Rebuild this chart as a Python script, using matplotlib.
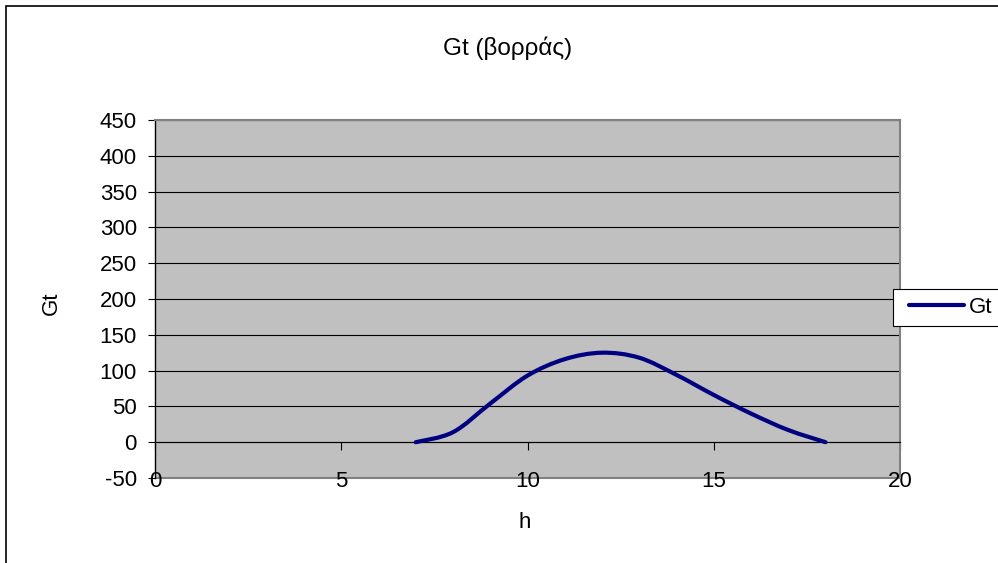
import matplotlib
matplotlib.use("Agg")
import matplotlib.pyplot as plt
from matplotlib.path import Path
from matplotlib.patches import PathPatch, Rectangle
from matplotlib.lines import Line2D
from matplotlib.legend_handler import HandlerLine2D
import numpy as np

plt.rcParams['font.family'] = ['Liberation Sans', 'DejaVu Sans']
plt.rcParams['axes.unicode_minus'] = False

# hourly values
hours = [7, 8, 9, 10, 11, 12, 13, 14, 15, 16, 17, 18]
gt = [0, 14, 54, 93, 116, 125, 118, 94, 66, 40, 17, 0]

title = "Gt (βορράς)"
series_name = "Gt"
x_label = "h"
y_label = "Gt"
x_ticks = [0, 5, 10, 15, 20]
y_ticks = [-50, 0, 50, 100, 150, 200, 250, 300, 350, 400, 450]

line_color = "#000080"
fs = 16

W, H = 998, 563
fig = plt.figure(figsize=(W / 100, H / 100), dpi=100)
fig.patch.set_facecolor("white")

# outer chart border (cut off at right/bottom like the original)
fig.add_artist(Rectangle((5.5 / W, -0.05), 1.2, 1 - 5.5 / H + 0.05,
                         transform=fig.transFigure, fill=False,
                         edgecolor="black", linewidth=1.2))

ax = fig.add_axes([155 / W, 1 - 478 / H, 745 / W, 358 / H])
ax.set_facecolor("#C0C0C0")
ax.set_xlim(0, 20)
ax.set_ylim(-50, 450)
ax.set_yticks(y_ticks)
ax.set_xticks(x_ticks)

for y in y_ticks[1:]:
    ax.axhline(y, color="black", linewidth=0.8, zorder=1)

for side in ["top", "right"]:
    ax.spines[side].set_color("#808080")
    ax.spines[side].set_linewidth(1.5)
ax.spines["left"].set_color("black")
ax.spines["left"].set_linewidth(1.0)
# x axis crosses at 0, labels stay low
ax.spines["bottom"].set_position(("data", 0))
ax.spines["bottom"].set_color("black")
ax.spines["bottom"].set_linewidth(0.8)
ax.add_patch(Rectangle((0, 0), 1, 0, transform=ax.transAxes, fill=False,
                       edgecolor="#808080", linewidth=1.5, clip_on=False))

ax.tick_params(axis="y", direction="out", length=5, width=0.8, pad=8,
               labelsize=fs, color="black")
ax.tick_params(axis="x", direction="out", length=6, width=0.8, pad=15,
               labelsize=fs, color="black")

# smoothed line (Excel-like Catmull-Rom bezier through the points)
pts = np.column_stack([hours, gt]).astype(float)
ext = np.vstack([pts[0], pts, pts[-1]])
verts = [tuple(pts[0])]
codes = [Path.MOVETO]
for i in range(1, len(ext) - 2):
    p0, p1, p2, p3 = ext[i - 1], ext[i], ext[i + 1], ext[i + 2]
    c1 = p1 + (p2 - p0) / 6
    c2 = p2 - (p3 - p1) / 6
    verts += [tuple(c1), tuple(c2), tuple(p2)]
    codes += [Path.CURVE4] * 3
ax.add_patch(PathPatch(Path(verts, codes), fill=False, edgecolor=line_color,
                       linewidth=3, capstyle="round", zorder=3))

fig.text(508 / W, 1 - 48 / H, title, ha="center", va="center", fontsize=17.5)
fig.text(525 / W, 1 - 522 / H, x_label, ha="center", va="center", fontsize=fs)
fig.text(51 / W, 1 - 303 / H, y_label, ha="center", va="center",
         fontsize=fs, rotation=90)

handle = Line2D([], [], color=line_color, linewidth=3, solid_capstyle="round")
leg = fig.legend([handle], [series_name], loc="center left",
                 bbox_to_anchor=(893 / W, 1 - 307.5 / H), fontsize=fs,
                 frameon=True, fancybox=False, borderpad=0.35,
                 handlelength=2.85, handletextpad=0.2, borderaxespad=0,
                 handler_map={Line2D: HandlerLine2D(xpad=0.35)})
leg.get_frame().set_edgecolor("black")
leg.get_frame().set_linewidth(0.8)
leg.get_frame().set_facecolor("white")
leg.get_frame().set_alpha(1)

fig.savefig("out.png", dpi=100)
